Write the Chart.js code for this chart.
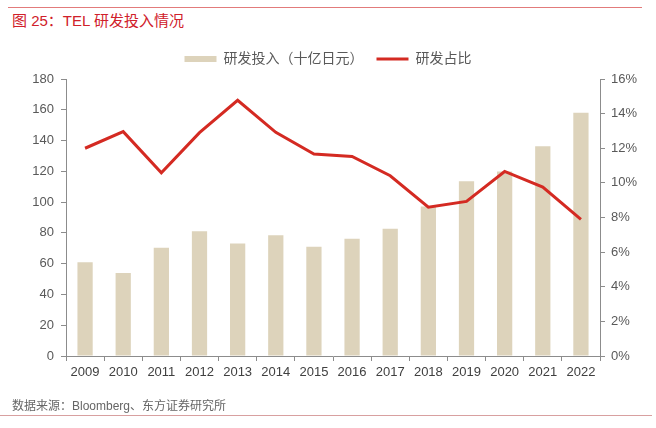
<!DOCTYPE html>
<html><head><meta charset="utf-8">
<script src="https://cdn.jsdelivr.net/npm/chart.js@4/dist/chart.umd.min.js"></script>
<style>
html,body{margin:0;padding:0;background:#fff;}
#wrap{position:relative;width:656px;height:428px;overflow:hidden;font-family:"Liberation Sans","Noto Sans CJK SC",sans-serif;}
#topline{position:absolute;left:8px;top:7px;width:634px;height:0;border-top:1.5px solid #E27B7B;}
#title{position:absolute;left:12px;top:12px;font-size:15px;line-height:18px;color:#D0202A;}
#foot{position:absolute;left:12px;top:398px;font-size:12px;line-height:16px;color:#666;}
#botline{position:absolute;left:0px;top:415px;width:652px;height:0;border-top:1.5px solid #D8A0A0;}
canvas{position:absolute;left:0;top:0;}
</style></head>
<body><div id="wrap">
<div id="topline"></div>
<div id="title">图 25：TEL 研发投入情况</div>
<canvas id="c" width="656" height="428"></canvas>
<div id="foot">数据来源：Bloomberg、东方证券研究所</div>
<div id="botline"></div>
</div>
<script>
const years = ["2009","2010","2011","2012","2013","2014","2015","2016","2017","2018","2019","2020","2021","2022"];
const rdSpend = [61, 54, 70.3, 81.1, 73.1, 78.5, 71.0, 76.2, 82.7, 97.1, 113.6, 119.9, 136.3, 158.1];
const rdRatio = [12.0, 12.96, 10.58, 12.9, 14.77, 12.92, 11.67, 11.53, 10.41, 8.6, 8.93, 10.66, 9.76, 7.89];
const leftTicks = [0,20,40,60,80,100,120,140,160,180];
const rightTicks = [0,2,4,6,8,10,12,14,16];

const FONT = "'Liberation Sans','Noto Sans CJK SC',sans-serif";
const axisColor = '#8C8C8C';

const legendGap = {
  id:'legendGap',
  afterInit(chart){
    const lg = chart.legend;
    if (!lg) return;
    const orig = lg.fit;
    lg.fit = function(){ orig.call(this); this.height += 3; };
  }
};

new Chart(document.getElementById('c'), {
  data: {
    labels: years,
    datasets: [
      {type:'line', label:'研发占比', data: rdRatio, yAxisID:'y1', borderColor:'#D42A22', backgroundColor:'#D42A22',
       borderWidth:3, pointRadius:0, tension:0, order:0, pointStyle:'line'},
      {type:'bar', label:'研发投入（十亿日元）', data: rdSpend, yAxisID:'y', backgroundColor:'#DDD3BB',
       barPercentage:0.4, categoryPercentage:1.0, order:1, pointStyle:'rect', borderWidth:0}
    ]
  },
  plugins:[legendGap],
  options: {
    responsive:false, animation:false,
    layout:{padding:{left:0,right:0,top:39,bottom:42}},
    plugins:{
      tooltip:{enabled:false},
      legend:{
        position:'top', reverse:true,
        labels:{usePointStyle:true, pointStyleWidth:32, boxHeight:6, color:'#595959',
          font:{family:FONT,size:14}, padding:13}
      }
    },
    scales:{
      x:{
        grid:{display:true, drawOnChartArea:false, drawTicks:true, tickLength:5, color:axisColor, offset:true},
        border:{display:true, color:axisColor, width:1},
        ticks:{color:'#404040', font:{family:FONT,size:13}, padding:4, maxRotation:0, autoSkip:false},
        afterFit(s){ s.height = 30; }
      },
      y:{
        position:'left', min:0, max:180,
        afterBuildTicks(s){ s.ticks = leftTicks.map(v=>({value:v})); },
        grid:{display:true, drawOnChartArea:false, drawTicks:true, tickLength:5, color:axisColor},
        border:{display:true, color:axisColor, width:1},
        ticks:{color:'#595959', font:{family:FONT,size:13}, padding:7},
        afterFit(s){ s.width = 66; }
      },
      y1:{
        position:'right', min:0, max:16,
        afterBuildTicks(s){ s.ticks = rightTicks.map(v=>({value:v})); },
        grid:{display:true, drawOnChartArea:false, drawTicks:true, tickLength:5, color:axisColor},
        border:{display:true, color:axisColor, width:1},
        ticks:{color:'#595959', font:{family:FONT,size:13}, padding:6, callback:v=>v+'%'},
        afterFit(s){ s.width = 56; }
      }
    }
  }
});
</script>
</body></html>
